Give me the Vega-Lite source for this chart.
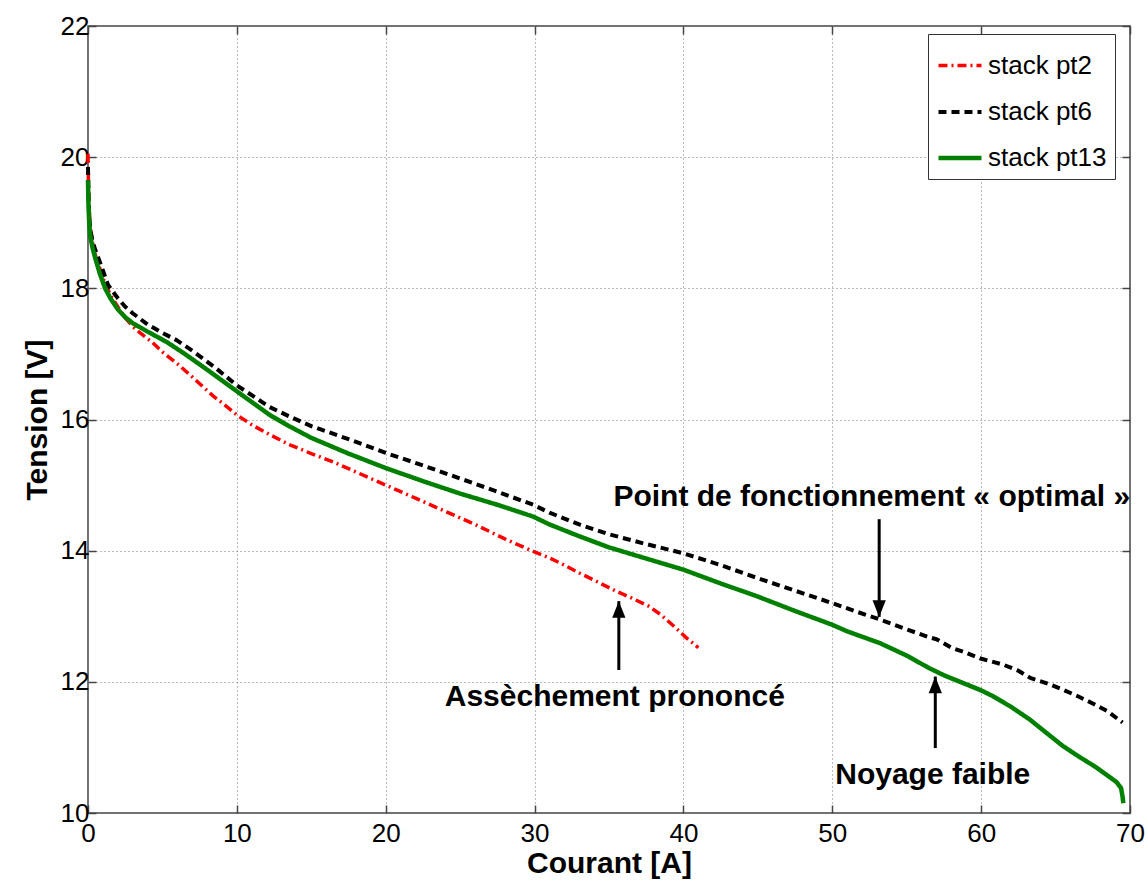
{
  "$schema": "https://vega.github.io/schema/vega-lite/v6.json",
  "width": 1042,
  "height": 787,
  "autosize": {"type": "none"},
  "padding": {"left": 88, "top": 26, "right": 15, "bottom": 68},
  "background": "white",
  "config": {
    "font": "Liberation Sans",
    "view": {"stroke": "#444", "strokeWidth": 1.5},
    "axis": {"labelFont": "Liberation Sans", "titleFont": "Liberation Sans", "labelColor": "black", "titleColor": "black"}
  },
  "datasets": {
    "curves": [
      {"I": 0, "V": 20.05, "series": "stack pt2"},
      {"I": 0.03, "V": 19.6, "series": "stack pt2"},
      {"I": 0.08, "V": 19.2, "series": "stack pt2"},
      {"I": 0.15, "V": 18.95, "series": "stack pt2"},
      {"I": 0.3, "V": 18.7, "series": "stack pt2"},
      {"I": 0.5, "V": 18.5, "series": "stack pt2"},
      {"I": 0.8, "V": 18.3, "series": "stack pt2"},
      {"I": 1.1, "V": 18.1, "series": "stack pt2"},
      {"I": 1.5, "V": 17.9, "series": "stack pt2"},
      {"I": 2, "V": 17.72, "series": "stack pt2"},
      {"I": 2.5, "V": 17.55, "series": "stack pt2"},
      {"I": 3, "V": 17.42, "series": "stack pt2"},
      {"I": 3.5, "V": 17.32, "series": "stack pt2"},
      {"I": 4.3, "V": 17.18, "series": "stack pt2"},
      {"I": 5, "V": 17.03, "series": "stack pt2"},
      {"I": 6, "V": 16.85, "series": "stack pt2"},
      {"I": 7, "V": 16.65, "series": "stack pt2"},
      {"I": 8.4, "V": 16.36, "series": "stack pt2"},
      {"I": 9.3, "V": 16.2, "series": "stack pt2"},
      {"I": 10, "V": 16.07, "series": "stack pt2"},
      {"I": 11, "V": 15.92, "series": "stack pt2"},
      {"I": 12.2, "V": 15.77, "series": "stack pt2"},
      {"I": 13.5, "V": 15.62, "series": "stack pt2"},
      {"I": 15, "V": 15.48, "series": "stack pt2"},
      {"I": 16.5, "V": 15.35, "series": "stack pt2"},
      {"I": 18, "V": 15.2, "series": "stack pt2"},
      {"I": 20, "V": 15.0, "series": "stack pt2"},
      {"I": 22, "V": 14.8, "series": "stack pt2"},
      {"I": 24, "V": 14.6, "series": "stack pt2"},
      {"I": 26, "V": 14.4, "series": "stack pt2"},
      {"I": 28, "V": 14.18, "series": "stack pt2"},
      {"I": 30, "V": 13.98, "series": "stack pt2"},
      {"I": 31, "V": 13.89, "series": "stack pt2"},
      {"I": 32, "V": 13.78, "series": "stack pt2"},
      {"I": 33, "V": 13.66, "series": "stack pt2"},
      {"I": 34, "V": 13.55, "series": "stack pt2"},
      {"I": 35.5, "V": 13.38, "series": "stack pt2"},
      {"I": 36.5, "V": 13.28, "series": "stack pt2"},
      {"I": 37.7, "V": 13.15, "series": "stack pt2"},
      {"I": 38.5, "V": 13.02, "series": "stack pt2"},
      {"I": 39.5, "V": 12.82, "series": "stack pt2"},
      {"I": 40.2, "V": 12.67, "series": "stack pt2"},
      {"I": 40.7, "V": 12.58, "series": "stack pt2"},
      {"I": 41, "V": 12.52, "series": "stack pt2"},

      {"I": 0, "V": 19.85, "series": "stack pt6"},
      {"I": 0.03, "V": 19.4, "series": "stack pt6"},
      {"I": 0.08, "V": 19.1, "series": "stack pt6"},
      {"I": 0.15, "V": 18.9, "series": "stack pt6"},
      {"I": 0.3, "V": 18.72, "series": "stack pt6"},
      {"I": 0.5, "V": 18.58, "series": "stack pt6"},
      {"I": 0.8, "V": 18.4, "series": "stack pt6"},
      {"I": 1.35, "V": 18.05, "series": "stack pt6"},
      {"I": 2, "V": 17.85, "series": "stack pt6"},
      {"I": 2.5, "V": 17.72, "series": "stack pt6"},
      {"I": 3, "V": 17.62, "series": "stack pt6"},
      {"I": 4, "V": 17.45, "series": "stack pt6"},
      {"I": 5, "V": 17.32, "series": "stack pt6"},
      {"I": 5.95, "V": 17.21, "series": "stack pt6"},
      {"I": 7, "V": 17.05, "series": "stack pt6"},
      {"I": 8.5, "V": 16.8, "series": "stack pt6"},
      {"I": 10, "V": 16.52, "series": "stack pt6"},
      {"I": 12.2, "V": 16.19, "series": "stack pt6"},
      {"I": 13.5, "V": 16.05, "series": "stack pt6"},
      {"I": 15, "V": 15.9, "series": "stack pt6"},
      {"I": 17.5, "V": 15.7, "series": "stack pt6"},
      {"I": 20, "V": 15.49, "series": "stack pt6"},
      {"I": 22.5, "V": 15.3, "series": "stack pt6"},
      {"I": 25, "V": 15.1, "series": "stack pt6"},
      {"I": 27.5, "V": 14.9, "series": "stack pt6"},
      {"I": 29.9, "V": 14.7, "series": "stack pt6"},
      {"I": 31, "V": 14.58, "series": "stack pt6"},
      {"I": 33, "V": 14.4, "series": "stack pt6"},
      {"I": 35, "V": 14.25, "series": "stack pt6"},
      {"I": 37.5, "V": 14.1, "series": "stack pt6"},
      {"I": 40, "V": 13.96, "series": "stack pt6"},
      {"I": 42.5, "V": 13.78, "series": "stack pt6"},
      {"I": 45, "V": 13.58, "series": "stack pt6"},
      {"I": 47.5, "V": 13.39, "series": "stack pt6"},
      {"I": 50, "V": 13.2, "series": "stack pt6"},
      {"I": 51.5, "V": 13.08, "series": "stack pt6"},
      {"I": 53.2, "V": 12.95, "series": "stack pt6"},
      {"I": 55, "V": 12.8, "series": "stack pt6"},
      {"I": 56.5, "V": 12.68, "series": "stack pt6"},
      {"I": 57, "V": 12.65, "series": "stack pt6"},
      {"I": 58, "V": 12.52, "series": "stack pt6"},
      {"I": 58.8, "V": 12.46, "series": "stack pt6"},
      {"I": 59.9, "V": 12.36, "series": "stack pt6"},
      {"I": 61.5, "V": 12.26, "series": "stack pt6"},
      {"I": 62.5, "V": 12.17, "series": "stack pt6"},
      {"I": 63.3, "V": 12.06, "series": "stack pt6"},
      {"I": 64.5, "V": 11.97, "series": "stack pt6"},
      {"I": 65.5, "V": 11.88, "series": "stack pt6"},
      {"I": 66.5, "V": 11.78, "series": "stack pt6"},
      {"I": 67.5, "V": 11.67, "series": "stack pt6"},
      {"I": 68.5, "V": 11.55, "series": "stack pt6"},
      {"I": 69.2, "V": 11.43, "series": "stack pt6"},
      {"I": 69.5, "V": 11.38, "series": "stack pt6"},

      {"I": 0, "V": 19.65, "series": "stack pt13"},
      {"I": 0.03, "V": 19.3, "series": "stack pt13"},
      {"I": 0.08, "V": 19.0, "series": "stack pt13"},
      {"I": 0.15, "V": 18.8, "series": "stack pt13"},
      {"I": 0.3, "V": 18.62, "series": "stack pt13"},
      {"I": 0.5, "V": 18.45, "series": "stack pt13"},
      {"I": 0.8, "V": 18.22, "series": "stack pt13"},
      {"I": 1.15, "V": 18.0, "series": "stack pt13"},
      {"I": 1.5, "V": 17.85, "series": "stack pt13"},
      {"I": 2, "V": 17.68, "series": "stack pt13"},
      {"I": 2.5, "V": 17.56, "series": "stack pt13"},
      {"I": 3, "V": 17.47, "series": "stack pt13"},
      {"I": 4, "V": 17.34, "series": "stack pt13"},
      {"I": 5.3, "V": 17.18, "series": "stack pt13"},
      {"I": 6.5, "V": 17.0, "series": "stack pt13"},
      {"I": 8, "V": 16.76, "series": "stack pt13"},
      {"I": 10, "V": 16.43, "series": "stack pt13"},
      {"I": 12.2, "V": 16.07, "series": "stack pt13"},
      {"I": 13.5, "V": 15.9, "series": "stack pt13"},
      {"I": 15, "V": 15.72, "series": "stack pt13"},
      {"I": 17.5, "V": 15.48, "series": "stack pt13"},
      {"I": 20, "V": 15.26, "series": "stack pt13"},
      {"I": 22.5, "V": 15.06, "series": "stack pt13"},
      {"I": 25, "V": 14.87, "series": "stack pt13"},
      {"I": 27.5, "V": 14.7, "series": "stack pt13"},
      {"I": 29.9, "V": 14.52, "series": "stack pt13"},
      {"I": 31, "V": 14.4, "series": "stack pt13"},
      {"I": 33, "V": 14.22, "series": "stack pt13"},
      {"I": 35, "V": 14.05, "series": "stack pt13"},
      {"I": 37.5, "V": 13.88, "series": "stack pt13"},
      {"I": 40, "V": 13.71, "series": "stack pt13"},
      {"I": 42.5, "V": 13.5, "series": "stack pt13"},
      {"I": 45, "V": 13.3, "series": "stack pt13"},
      {"I": 47.5, "V": 13.08, "series": "stack pt13"},
      {"I": 50, "V": 12.87, "series": "stack pt13"},
      {"I": 51, "V": 12.77, "series": "stack pt13"},
      {"I": 53.2, "V": 12.59, "series": "stack pt13"},
      {"I": 55, "V": 12.4, "series": "stack pt13"},
      {"I": 56.5, "V": 12.21, "series": "stack pt13"},
      {"I": 57.5, "V": 12.1, "series": "stack pt13"},
      {"I": 58.8, "V": 11.98, "series": "stack pt13"},
      {"I": 60, "V": 11.87, "series": "stack pt13"},
      {"I": 60.8, "V": 11.78, "series": "stack pt13"},
      {"I": 62, "V": 11.62, "series": "stack pt13"},
      {"I": 63.3, "V": 11.42, "series": "stack pt13"},
      {"I": 64.5, "V": 11.2, "series": "stack pt13"},
      {"I": 65.5, "V": 11.02, "series": "stack pt13"},
      {"I": 66.5, "V": 10.87, "series": "stack pt13"},
      {"I": 67.7, "V": 10.7, "series": "stack pt13"},
      {"I": 68.5, "V": 10.57, "series": "stack pt13"},
      {"I": 69.1, "V": 10.47, "series": "stack pt13"},
      {"I": 69.4, "V": 10.38, "series": "stack pt13"},
      {"I": 69.5, "V": 10.25, "series": "stack pt13"},
      {"I": 69.55, "V": 10.15, "series": "stack pt13"}
    ],
    "arrows": [
      {"I": 53.15, "V1": 14.48, "V2": 12.99, "dir": "down"},
      {"I": 35.66, "V1": 12.18, "V2": 13.23, "dir": "up"},
      {"I": 56.92, "V1": 10.99, "V2": 12.08, "dir": "up"}
    ],
    "notes": [
      {"I": 52.65, "V": 14.82, "label": "Point de fonctionnement « optimal »"},
      {"I": 35.39, "V": 11.77, "label": "Assèchement prononcé"},
      {"I": 56.75, "V": 10.58, "label": "Noyage faible"}
    ]
  },
  "layer": [
    {
      "data": {"name": "curves"},
      "mark": {"type": "line", "strokeCap": "butt", "strokeJoin": "round"},
      "encoding": {
        "x": {
          "field": "I", "type": "quantitative",
          "scale": {"domain": [0, 70], "nice": false, "zero": false},
          "axis": {
            "orient": "bottom", "title": "Courant [A]", "values": [0, 10, 20, 30, 40, 50, 60, 70],
            "labelFontSize": 26, "titleFontSize": 30, "titleFontWeight": "bold",
            "grid": true, "gridDash": [1, 3], "gridColor": "#777", "gridWidth": 1,
            "tickSize": -8, "tickColor": "#444", "tickWidth": 1.5, "domain": false,
            "labelPadding": 15, "titlePadding": 2, "labelFlush": false
          }
        },
        "y": {
          "field": "V", "type": "quantitative",
          "scale": {"domain": [10, 22], "nice": false, "zero": false},
          "axis": {
            "orient": "left", "title": "Tension [V]", "values": [10, 12, 14, 16, 18, 20, 22],
            "labelFontSize": 26, "titleFontSize": 30, "titleFontWeight": "bold",
            "grid": true, "gridDash": [1, 3], "gridColor": "#777", "gridWidth": 1,
            "tickSize": -8, "tickColor": "#444", "tickWidth": 1.5, "domain": false,
            "labelPadding": 7, "titlePadding": 8, "labelFlush": false
          }
        },
        "color": {
          "field": "series", "type": "nominal",
          "scale": {"domain": ["stack pt2", "stack pt6", "stack pt13"], "range": ["#ff0000", "#000000", "#008000"]},
          "legend": {
            "title": null, "orient": "none", "legendX": 840, "legendY": 8,
            "strokeColor": "#333", "fillColor": "white", "padding": 8,
            "labelFontSize": 26, "labelFont": "Liberation Sans", "labelColor": "black",
            "symbolType": "stroke", "symbolSize": 1850, "symbolStrokeWidth": 4,
            "rowPadding": 9, "labelOffset": 4
          }
        },
        "strokeDash": {
          "field": "series", "type": "nominal",
          "scale": {"domain": ["stack pt2", "stack pt6", "stack pt13"], "range": [[9, 4, 2, 4], [8, 5], [1, 0]]},
          "legend": {
            "title": null, "orient": "none", "legendX": 840, "legendY": 8,
            "strokeColor": "#333", "fillColor": "white", "padding": 8,
            "labelFontSize": 26, "labelFont": "Liberation Sans", "labelColor": "black",
            "symbolType": "stroke", "symbolSize": 1850, "symbolStrokeWidth": 4,
            "rowPadding": 9, "labelOffset": 4
          }
        },
        "strokeWidth": {
          "field": "series", "type": "nominal",
          "scale": {"domain": ["stack pt2", "stack pt6", "stack pt13"], "range": [3.5, 4.5, 4]},
          "legend": null
        }
      }
    },
    {
      "data": {"name": "notes"},
      "mark": {"type": "text", "font": "Liberation Sans", "fontWeight": "bold", "fontSize": 30, "color": "black", "align": "center", "baseline": "middle"},
      "encoding": {
        "x": {
          "field": "I", "type": "quantitative",
          "axis": {"orient": "top", "labels": false, "title": null, "grid": false, "domain": false, "values": [0, 10, 20, 30, 40, 50, 60, 70], "tickSize": -8, "tickColor": "#444", "tickWidth": 1.5}
        },
        "y": {
          "field": "V", "type": "quantitative",
          "axis": {"orient": "right", "labels": false, "title": null, "grid": false, "domain": false, "values": [10, 12, 14, 16, 18, 20, 22], "tickSize": -8, "tickColor": "#444", "tickWidth": 1.5}
        },
        "text": {"field": "label"}
      }
    },
    {
      "data": {"name": "arrows"},
      "mark": {"type": "rule", "color": "black", "strokeWidth": 3},
      "encoding": {
        "x": {"field": "I", "type": "quantitative", "axis": null},
        "y": {"field": "V1", "type": "quantitative", "axis": null},
        "y2": {"field": "V2"}
      }
    },
    {
      "data": {"name": "arrows"},
      "mark": {"type": "point", "filled": true, "color": "black", "opacity": 1, "strokeWidth": 0},
      "encoding": {
        "x": {"field": "I", "type": "quantitative", "axis": null},
        "y": {"field": "V2", "type": "quantitative", "axis": null},
        "shape": {
          "field": "dir", "type": "nominal",
          "scale": {"domain": ["down", "up"], "range": ["M-0.4,-1L0,0L0.4,-1Z", "M-0.4,1L0,0L0.4,1Z"]},
          "legend": null
        },
        "size": {"value": 1100}
      }
    }
  ],
  "resolve": {"axis": {"x": "independent", "y": "independent"}}
}
